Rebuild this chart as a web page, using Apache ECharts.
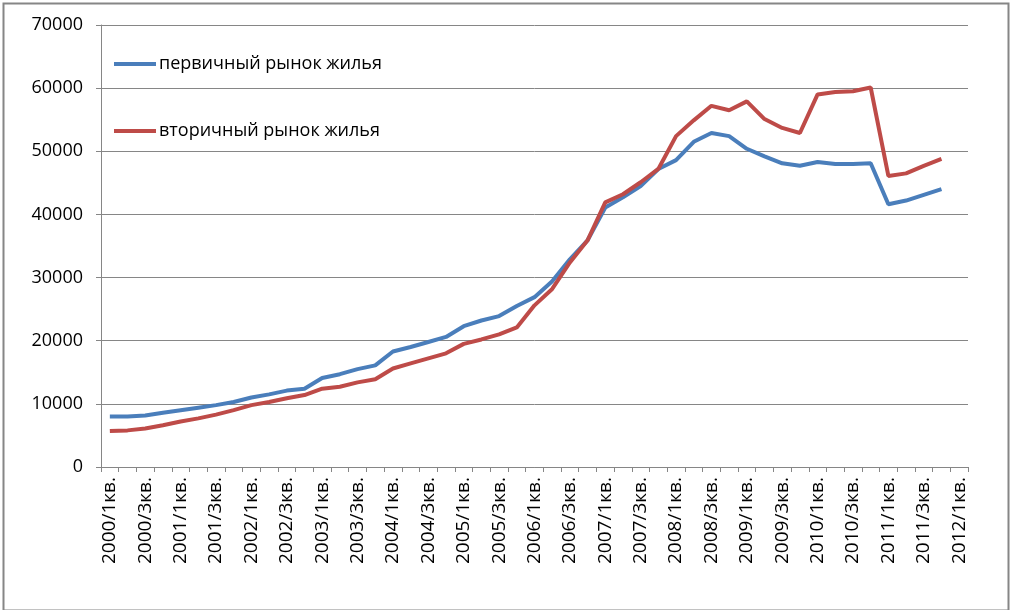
<!DOCTYPE html>
<html>
<head>
<meta charset="utf-8">
<script src="https://cdn.jsdelivr.net/npm/echarts@6/dist/echarts.min.js"></script>
<style>
html,body{margin:0;padding:0;background:#fff;}
#c{width:1011px;height:610px;}
</style>
</head>
<body>
<div id="c"></div>
<script>
// Categories: quarters 2000/1кв. .. 2012/1кв.
const categories = [];
for (let y = 2000; y <= 2012; y++) {
  for (let q = 1; q <= 4; q++) {
    if (y === 2012 && q > 1) break;
    categories.push(y + '/' + q + 'кв.');
  }
}
const seriesNames = ['первичный рынок жилья', 'вторичный рынок жилья'];
const primaryMarket = [
  8000, 8000, 8150, 8600, 9000, 9400, 9800, 10300,
  11000, 11500, 12100, 12400, 14100, 14700, 15500, 16100,
  18300, 19000, 19800, 20600, 22300, 23200, 23900, 25500,
  26900, 29400, 32900, 35900, 41100, 42700, 44500, 47200,
  48600, 51500, 52900, 52400, 50400, 49200, 48100, 47700,
  48300, 48000, 48000, 48100, 41600, 42200, 43100, 44000
];
const secondaryMarket = [
  5700, 5800, 6100, 6600, 7200, 7700, 8300, 9000,
  9800, 10300, 10900, 11400, 12400, 12700, 13400, 13900,
  15600, 16400, 17200, 18000, 19500, 20200, 21000, 22100,
  25600, 28200, 32400, 35900, 41900, 43200, 45100, 47200,
  52400, 54900, 57200, 56500, 57900, 55100, 53700, 52900,
  59000, 59400, 59500, 60100, 46100, 46500, 47700, 48800
];
const yTicks = { min: 0, max: 70000, interval: 10000 };

const chart = echarts.init(document.getElementById('c'), null, { renderer: 'canvas' });
const font = "'Open Sans', 'Liberation Sans', sans-serif";
chart.setOption({
  animation: false,
  backgroundColor: '#ffffff',
  color: ['#4A7EBB', '#BE4B48'],
  grid: { left: 101, right: 43, top: 25, bottom: 143, containLabel: false },
  legend: {
    orient: 'vertical',
    left: 109,
    top: 50,
    itemWidth: 42,
    itemHeight: 4,
    itemGap: 49,
    icon: 'rect',
    textStyle: { fontFamily: font, fontSize: 18, color: '#000', padding: [0, 0, 0, -2] },
    data: seriesNames
  },
  xAxis: {
    type: 'category',
    data: categories,
    boundaryGap: true,
    axisLine: { show: true, lineStyle: { color: '#868686', width: 1 } },
    axisTick: { show: true, interval: 0, length: 5, lineStyle: { color: '#868686' } },
    axisLabel: {
      interval: 1,
      rotate: 90,
      margin: 10,
      fontFamily: font,
      fontSize: 19,
      color: '#000'
    },
    splitLine: { show: false }
  },
  yAxis: {
    type: 'value',
    min: yTicks.min,
    max: yTicks.max,
    interval: yTicks.interval,
    axisLine: { show: true, lineStyle: { color: '#868686', width: 1 } },
    axisTick: { show: true, length: 5, lineStyle: { color: '#868686' } },
    axisLabel: { margin: 18, fontFamily: font, fontSize: 18, color: '#000', formatter: v => String(v) },
    splitLine: { show: true, lineStyle: { color: '#868686', width: 1 } }
  },
  series: [
    {
      name: seriesNames[0],
      type: 'line',
      data: primaryMarket,
      symbol: 'none',
      smooth: false,
      lineStyle: { width: 4, color: '#4A7EBB' },
      itemStyle: { color: '#4A7EBB' },
      z: 2
    },
    {
      name: seriesNames[1],
      type: 'line',
      data: secondaryMarket,
      symbol: 'none',
      smooth: false,
      lineStyle: { width: 4, color: '#BE4B48' },
      itemStyle: { color: '#BE4B48' },
      z: 3
    }
  ],
  graphic: [{
    type: 'rect',
    left: 1, top: 1,
    shape: { width: 1005, height: 607 },
    style: { fill: 'none', stroke: '#868686', lineWidth: 2 },
    silent: true
  }]
});
</script>
</body>
</html>
